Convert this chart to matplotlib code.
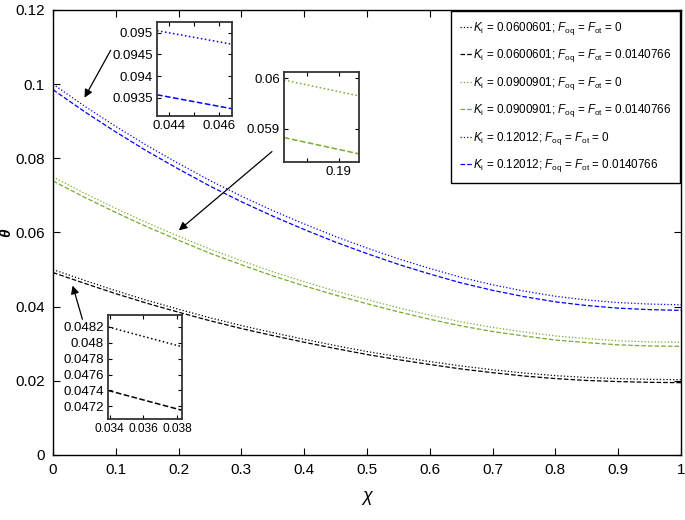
import matplotlib
matplotlib.use('Agg')
import matplotlib.pyplot as plt

plt.rcParams['font.family'] = ['Liberation Sans', 'DejaVu Sans']
plt.rcParams['mathtext.fontset'] = 'custom'
plt.rcParams['mathtext.rm'] = 'Liberation Sans'
plt.rcParams['mathtext.it'] = 'Liberation Sans:italic'

# values
x = [0.0, 0.05, 0.1, 0.15, 0.2, 0.25, 0.3, 0.35, 0.4, 0.45, 0.5,
     0.55, 0.6, 0.65, 0.7, 0.75, 0.8, 0.85, 0.9, 0.95, 1.0]

blue_dot = [0.1000, 0.0941, 0.0886, 0.0834, 0.0786, 0.0740, 0.0698, 0.0659, 0.0623, 0.0589, 0.0558,
            0.0529, 0.0503, 0.0479, 0.0459, 0.0442, 0.0428, 0.0418, 0.0411, 0.0407, 0.0405]
blue_dash = [0.0985, 0.0926, 0.0871, 0.0819, 0.0771, 0.0725, 0.0683, 0.0644, 0.0608, 0.0574, 0.0543,
             0.0514, 0.0488, 0.0464, 0.0444, 0.0427, 0.0413, 0.0403, 0.0396, 0.0392, 0.0390]
green_dot = [0.0750, 0.0706, 0.0665, 0.0626, 0.0590, 0.0555, 0.0524, 0.0494, 0.0467, 0.0442, 0.0419,
             0.0397, 0.0377, 0.0359, 0.0344, 0.0332, 0.0321, 0.0314, 0.0308, 0.0305, 0.0304]
green_dash = [0.0739, 0.0695, 0.0654, 0.0615, 0.0579, 0.0544, 0.0513, 0.0483, 0.0456, 0.0431, 0.0408,
              0.0386, 0.0366, 0.0348, 0.0333, 0.0321, 0.0310, 0.0303, 0.0297, 0.0294, 0.0293]
black_dot = [0.0500, 0.0471, 0.0443, 0.0417, 0.0393, 0.0370, 0.0349, 0.0330, 0.0312, 0.0295, 0.0279,
             0.0265, 0.0252, 0.0240, 0.0230, 0.0221, 0.0214, 0.0209, 0.0206, 0.0204, 0.0203]
black_dash = [0.0492, 0.0463, 0.0435, 0.0409, 0.0385, 0.0362, 0.0341, 0.0322, 0.0304, 0.0287, 0.0271,
              0.0257, 0.0244, 0.0232, 0.0222, 0.0213, 0.0206, 0.0201, 0.0198, 0.0196, 0.0195]

# zoomed insets
xz_blue = [0.0435, 0.0465]
blue_dot_z = [0.09505, 0.09474]
blue_dash_z = [0.09357, 0.09325]
xz_green = [0.1865, 0.1913]
green_dot_z = [0.05996, 0.05965]
green_dash_z = [0.05883, 0.05851]
xz_black = [0.0339, 0.0383]
black_dot_z = [0.0482, 0.04795]
black_dash_z = [0.0474, 0.04715]

labels = [r'$K_{\mathrm{i}}$ = 0.0600601; $F_{\mathrm{oq}}$ = $F_{\mathrm{ot}}$ = 0',
          r'$K_{\mathrm{i}}$ = 0.0600601; $F_{\mathrm{oq}}$ = $F_{\mathrm{ot}}$ = 0.0140766',
          r'$K_{\mathrm{i}}$ = 0.0900901; $F_{\mathrm{oq}}$ = $F_{\mathrm{ot}}$ = 0',
          r'$K_{\mathrm{i}}$ = 0.0900901; $F_{\mathrm{oq}}$ = $F_{\mathrm{ot}}$ = 0.0140766',
          r'$K_{\mathrm{i}}$ = 0.12012; $F_{\mathrm{oq}}$ = $F_{\mathrm{ot}}$ = 0',
          r'$K_{\mathrm{i}}$ = 0.12012; $F_{\mathrm{oq}}$ = $F_{\mathrm{ot}}$ = 0.0140766']

xticks = [0, 0.1, 0.2, 0.3, 0.4, 0.5, 0.6, 0.7, 0.8, 0.9, 1]
xtick_labels = ['0', '0.1', '0.2', '0.3', '0.4', '0.5', '0.6', '0.7', '0.8', '0.9', '1']
yticks = [0, 0.02, 0.04, 0.06, 0.08, 0.1, 0.12]
ytick_labels = ['0', '0.02', '0.04', '0.06', '0.08', '0.1', '0.12']

blk = 'black'
grn = '#77AC30'
blu = '#0000FF'
lw = 0.9

fig = plt.figure(figsize=(6.85, 5.2), dpi=100)
ax = fig.add_axes([0.0774, 0.125, 0.9168, 0.8558])

ax.plot(x, black_dot, ':', color=blk, lw=lw, label=labels[0])
ax.plot(x, black_dash, '--', color=blk, lw=lw, label=labels[1])
ax.plot(x, green_dot, ':', color=grn, lw=lw, label=labels[2])
ax.plot(x, green_dash, '--', color=grn, lw=lw, label=labels[3])
ax.plot(x, blue_dot, ':', color=blu, lw=lw, label=labels[4])
ax.plot(x, blue_dash, '--', color=blu, lw=lw, label=labels[5])

ax.set_xlim(0, 1)
ax.set_ylim(0, 0.12)
ax.set_xticks(xticks)
ax.set_xticklabels(xtick_labels)
ax.set_yticks(yticks)
ax.set_yticklabels(ytick_labels)
ax.tick_params(direction='in', top=True, right=True, length=5, labelsize=11, pad=6)
ax.set_xlabel('χ', fontsize=13, fontstyle='italic', labelpad=8)
ax.set_ylabel('θ', fontsize=11, fontstyle='italic', fontweight='bold')
ax.yaxis.set_label_coords(-0.063, 0.5)
for s in ax.spines.values():
    s.set_linewidth(1.0)

leg = ax.legend(loc='upper right', borderaxespad=0.1, fontsize=8.4, handlelength=1.0,
                handletextpad=0.1, labelspacing=0.9, fancybox=False, edgecolor='black',
                framealpha=1, borderpad=0.75)
leg.get_frame().set_linewidth(1.0)

# arrows
arr = dict(arrowstyle='-|>', color='black', lw=0.9, mutation_scale=12)
ax.annotate('', xy=(0.048, 0.0957), xytext=(0.094, 0.1098), arrowprops=arr)
ax.annotate('', xy=(0.197, 0.0601), xytext=(0.352, 0.0823), arrowprops=arr)
ax.annotate('', xy=(0.030, 0.0464), xytext=(0.048, 0.0359), arrowprops=arr)


def inset(rect, xs, dot, dash, col, xlim, ylim, xt, xtl, yt, ytl, xsize=9.5):
    a = fig.add_axes(rect)
    a.plot(xs, dot, ':', color=col, lw=1.1)
    a.plot(xs, dash, '--', color=col, lw=1.1)
    a.set_xlim(xlim)
    a.set_ylim(ylim)
    a.set_xticks(xt)
    a.set_xticklabels(xtl)
    a.set_yticks(yt)
    a.set_yticklabels(ytl)
    a.tick_params(direction='in', top=True, right=True, length=3, labelsize=9.5, pad=3)
    a.tick_params(axis='x', labelsize=xsize)
    for s in a.spines.values():
        s.set_linewidth(1.3)
        s.set_color('#333333')
    return a


inset([0.2292, 0.7769, 0.1095, 0.1808], xz_blue, blue_dot_z, blue_dash_z, blu,
      (0.0435, 0.04652), (0.09308, 0.09525),
      [0.044, 0.045, 0.046], ['0.044', '', '0.046'],
      [0.0935, 0.094, 0.0945, 0.095], ['0.0935', '0.094', '0.0945', '0.095'])
inset([0.4146, 0.6885, 0.1095, 0.1731], xz_green, green_dot_z, green_dash_z, grn,
      (0.1865, 0.1913), (0.05835, 0.06012),
      [0.188, 0.19], ['', '0.19'],
      [0.059, 0.06], ['0.059', '0.06'])
inset([0.1577, 0.1942, 0.108, 0.2], xz_black, black_dot_z, black_dash_z, blk,
      (0.0339, 0.0383), (0.04704, 0.04835),
      [0.034, 0.036, 0.038], ['0.034', '0.036', '0.038'],
      [0.0472, 0.0474, 0.0476, 0.0478, 0.048, 0.0482],
      ['0.0472', '0.0474', '0.0476', '0.0478', '0.048', '0.0482'], xsize=8.6)

fig.savefig('out.png', dpi=100)
